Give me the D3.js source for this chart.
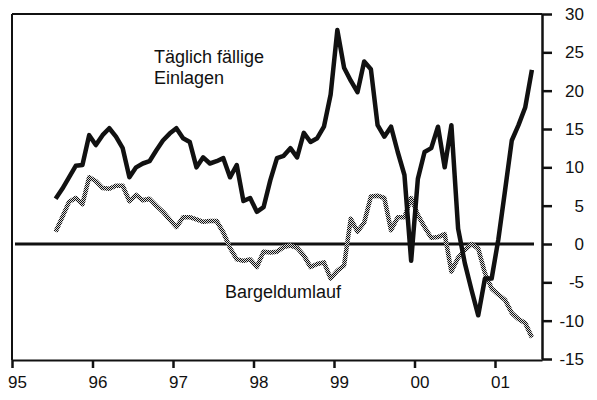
<!DOCTYPE html>
<html>
<head>
<meta charset="utf-8">
<script src="https://cdn.jsdelivr.net/npm/d3@7"></script>
<style>
body { margin: 0; background: #fff; }
text { font-family: "Liberation Sans", Arial, sans-serif; fill: #111; }
</style>
</head>
<body>
<div id="vis"></div>
<script>
// monthly values, first point = July 1995
var firstMonth = "1995-07";
var yearTicks = ["95", "96", "97", "98", "99", "00", "01"];
var yTicks = [30, 25, 20, 15, 10, 5, 0, -5, -10, -15];

var einlagen = [5.9, 7.2, 8.7, 10.2, 10.3, 14.2, 12.9, 14.2, 15.1, 14.0, 12.5, 8.7,
	10.0, 10.5, 10.8, 12.2, 13.5, 14.4, 15.1, 13.8, 13.3, 10.0, 11.3, 10.5,
	10.8, 11.2, 8.7, 10.3, 5.6, 6.0, 4.2, 4.8, 8.3, 11.2, 11.5, 12.5,
	11.3, 14.5, 13.3, 13.8, 15.3, 19.5, 27.9, 23.0, 21.3, 19.8, 23.8, 22.8,
	15.5, 14.0, 15.3, 12.0, 9.0, -2.2, 8.5, 12.0, 12.5, 15.3, 10.0, 15.5,
	2.0, -2.5, -6.0, -9.3, -4.5, -4.5, 0.6, 7.0, 13.5, 15.5, 17.8, 22.7];

var bargeld = [1.6, 3.5, 5.5, 6.0, 5.2, 8.7, 8.2, 7.3, 7.2, 7.6, 7.6, 5.6,
	6.4, 5.7, 5.9, 5.0, 4.2, 3.2, 2.2, 3.5, 3.5, 3.2, 2.9, 3.0,
	3.0, 1.5, -0.5, -2.0, -2.2, -2.0, -3.0, -1.0, -1.1, -1.0, -0.4, -0.2,
	-0.5, -1.5, -3.0, -2.6, -2.4, -4.5, -3.5, -2.8, 3.3, 1.6, 2.8, 6.2,
	6.3, 6.0, 1.8, 3.5, 3.5, 6.0, 3.8, 2.2, 0.8, 0.9, 1.3, -3.6,
	-1.8, -0.8, 0.0, -0.6, -3.8, -5.8, -6.6, -7.3, -9.0, -9.8, -10.3, -12.2];

var W = 597, H = 400;
var plotL = 12, plotR = 542, plotT = 14, plotB = 359;

var svg = d3.select("#vis").append("svg")
	.attr("width", W)
	.attr("height", H);

// checkered pattern for the Bargeld line
var pat = svg.append("defs").append("pattern")
	.attr("id", "checker")
	.attr("patternUnits", "userSpaceOnUse")
	.attr("width", 2).attr("height", 2);
pat.append("rect").attr("width", 2).attr("height", 2).attr("fill", "#ddd");
pat.append("rect").attr("width", 1).attr("height", 1).attr("fill", "#111");
pat.append("rect").attr("x", 1).attr("y", 1).attr("width", 1).attr("height", 1).attr("fill", "#111");

var start = +firstMonth.slice(0, 4) + (+firstMonth.slice(5) - 1) / 12;
function dateOf(i) { return start + (i + 0.5) / 12; }

var x = d3.scaleLinear()
	.domain([1995, 1995 + (plotR - plotL) / 80.5])
	.range([plotL, plotR]);
var y = d3.scaleLinear()
	.domain([-15, 30])
	.range([plotB, plotT]);

// frame
svg.append("line").attr("x1", plotL).attr("x2", plotR).attr("y1", plotT).attr("y2", plotT)
	.attr("stroke", "#111").attr("stroke-width", 2);
svg.append("line").attr("x1", plotL).attr("x2", plotL).attr("y1", plotT).attr("y2", plotB + 1)
	.attr("stroke", "#111").attr("stroke-width", 2);

// bottom axis
var xAxis = svg.append("g")
	.attr("transform", "translate(0," + (plotB + 1) + ")")
	.call(d3.axisBottom(x)
		.tickValues(d3.range(1995, 2002))
		.tickSize(8)
		.tickSizeOuter(0)
		.tickFormat(function(d, i) { return yearTicks[i]; }));
xAxis.select(".domain").attr("stroke", "#111").attr("stroke-width", 2);
xAxis.selectAll(".tick line").attr("stroke", "#111").attr("stroke-width", 2.5);
xAxis.selectAll(".tick text")
	.attr("y", 16).attr("dx", 5)
	.style("font-family", "'Liberation Sans', Arial, sans-serif")
	.style("font-size", "17px").attr("fill", "#111");

// right axis
var yAxis = svg.append("g")
	.attr("transform", "translate(" + plotR + ",0)")
	.call(d3.axisRight(y)
		.tickValues(yTicks)
		.tickSize(10)
		.tickSizeOuter(0)
		.tickFormat(function(d) { return String(d); }));
yAxis.select(".domain").attr("stroke", "#111").attr("stroke-width", 2.5);
yAxis.selectAll(".tick line").attr("stroke", "#111").attr("stroke-width", 2.5);
yAxis.selectAll(".tick text")
	.attr("x", 42).attr("text-anchor", "end")
	.style("font-family", "'Liberation Sans', Arial, sans-serif")
	.style("font-size", "17px").attr("fill", "#111");

// zero line
svg.append("line")
	.attr("x1", plotL + 3).attr("x2", plotR - 8)
	.attr("y1", y(0)).attr("y2", y(0))
	.attr("stroke", "#111").attr("stroke-width", 3);

var line = d3.line()
	.x(function(d, i) { return x(dateOf(i)); })
	.y(function(d) { return y(d); });

svg.append("path")
	.datum(bargeld)
	.attr("fill", "none")
	.attr("stroke", "url(#checker)")
	.attr("stroke-width", 4.5)
	.attr("stroke-linejoin", "round")
	.attr("d", line);

svg.append("path")
	.datum(einlagen)
	.attr("fill", "none")
	.attr("stroke", "#111")
	.attr("stroke-width", 4.5)
	.attr("stroke-linejoin", "round")
	.attr("d", line);

// labels
svg.append("text").attr("x", 154).attr("y", 63).style("font-size", "18px").text("Täglich fällige");
svg.append("text").attr("x", 154).attr("y", 84).style("font-size", "18px").text("Einlagen");
svg.append("text").attr("x", 225).attr("y", 298).style("font-size", "18px").text("Bargeldumlauf");
</script>
</body>
</html>
